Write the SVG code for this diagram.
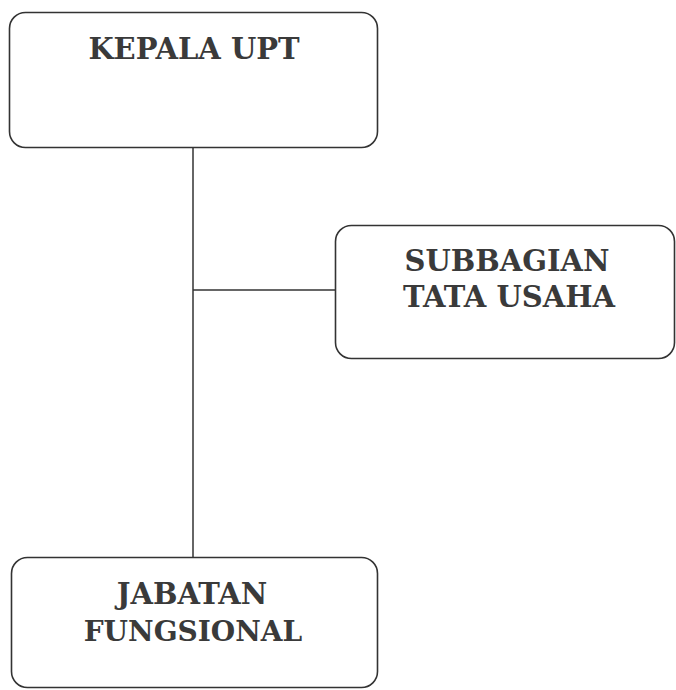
<svg xmlns="http://www.w3.org/2000/svg" width="676" height="690" viewBox="0 0 676 690">
<style>
.box{fill:#fff;stroke:#333;stroke-width:1.6}
.lbl{font-family:"DejaVu Serif","Liberation Serif",serif;font-weight:bold;font-size:29px;fill:#3a3a3a;text-anchor:middle}
.con{stroke:#333;stroke-width:1.5;fill:none}
</style>
<rect width="676" height="690" fill="#fff"/>
<g id="connectors">
<line class="con" x1="193" y1="147" x2="193" y2="557"/>
<line class="con" x1="193" y1="290" x2="336" y2="290"/>
</g>
<g id="kepala">
<rect class="box" x="9.5" y="12.5" width="368" height="135" rx="16"/>
<text class="lbl" x="194" y="59">KEPALA UPT</text>
</g>
<g id="subbagian">
<rect class="box" x="335.5" y="225.5" width="339" height="133" rx="16"/>
<text class="lbl" x="507" y="271">SUBBAGIAN</text>
<text class="lbl" x="509" y="307">TATA USAHA</text>
</g>
<g id="jabatan">
<rect class="box" x="11.5" y="557.5" width="366" height="130" rx="16"/>
<text class="lbl" x="192" y="604">JABATAN</text>
<text class="lbl" x="193" y="641" style="font-size:28px">FUNGSIONAL</text>
</g>
</svg>
